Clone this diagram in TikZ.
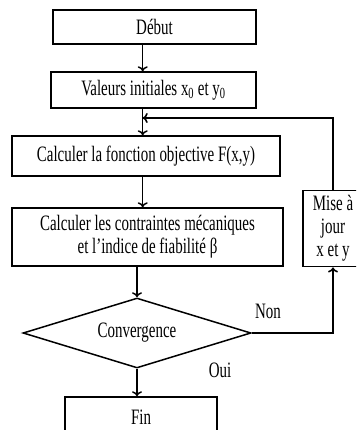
\documentclass[tikz,border=0pt]{standalone}
\usepackage{fontspec}
\setmainfont{Liberation Serif}[FakeStretch=0.68]
\usetikzlibrary{shapes, arrows.meta, positioning, calc}

\begin{document}
\begin{tikzpicture}[x=1pt, y=-1pt,
    box/.style={draw, line width=1.5pt, inner sep=0pt, align=center},
    choix/.style={draw, diamond, line width=1.5pt, inner sep=0pt, aspect=3.26},
    lien/.style={-{To[length=5pt, width=10pt]}, line width=1.5pt}]
    \useasboundingbox (0,0) rectangle (356,430);
    \clip (0,0) rectangle (356,430);
    \fontsize{22}{23}\selectfont

    % Main column
    \node[box, minimum width=203pt, minimum height=34pt] (debut) at (154.5, 27) {Début};
    \node[box, minimum width=205pt, minimum height=36pt] (init) at (153.5, 90) {Valeurs initiales x\textsubscript{0} et y\textsubscript{0}};
    \node[box, minimum width=268pt, minimum height=40pt] (fobj) at (146, 156) {Calculer la fonction objective F(x,y)};
    \node[box, minimum width=271pt, minimum height=58pt] (contr) at (147.5, 237) {Calculer les contraintes mécaniques\\et l’indice de fiabilité β};
    \node[choix, minimum width=228pt, minimum height=70pt] (conv) at (137, 333) {Convergence};
    \node[box, minimum width=152pt, minimum height=40pt] (fin) at (141, 417) {Fin};

    % Update box on the right
    \node[box, minimum width=60pt, minimum height=76pt] (maj) at (333, 228.7) {Mise à\\jour\\x et y};

    % Axes of the arrows
    \coordinate (axe) at (142.7, 0);
    \coordinate (axeb) at (137, 0);
    \coordinate (retour) at (142.7, 118);

    % Arrows down
    \draw[lien] (debut.south -| axe) -- (init.north -| axe);
    \draw[lien] (init.south -| axe) -- (fobj.north -| axe);
    \draw[lien] (fobj.south -| axe) -- (contr.north -| axe);
    \draw[lien] (contr.south -| axeb) -- (conv.north);
    \draw[lien] (conv.south) -- (fin.north -| axeb);

    % Loop
    \draw[lien] (conv.east) -| (maj.south);
    \draw[lien] (maj.north) |- (retour);

    % Labels
    \node (non) at (268, 311) {Non};
    \node (oui) at (220, 370) {Oui};
\end{tikzpicture}
\end{document}
